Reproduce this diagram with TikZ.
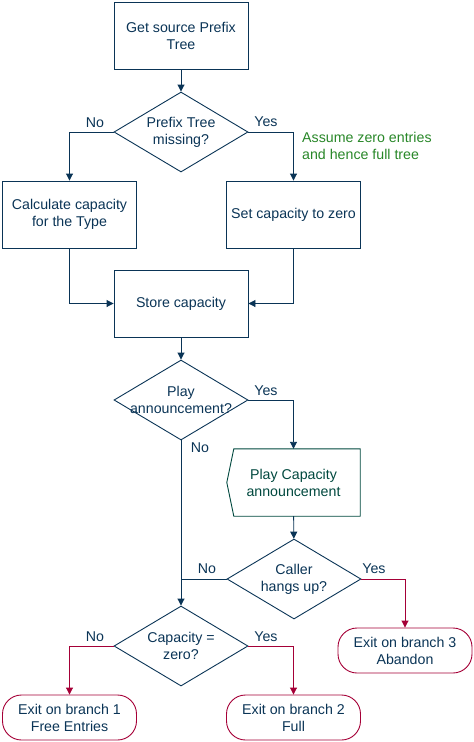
\documentclass[tikz,border=0pt]{standalone}
\usepackage{fontspec}
\setmainfont{Liberation Sans}
\usetikzlibrary{arrows.meta}
\definecolor{navy}{RGB}{10,52,86}
\definecolor{crim}{RGB}{165,0,55}
\definecolor{teal}{RGB}{0,72,62}
\definecolor{grn}{RGB}{40,135,40}
\tikzset{
  base/.style={font=\fontsize{14.2}{17}\selectfont, text=navy},
  proc/.style={base, draw=navy, line width=0.9pt, rectangle, minimum width=134pt, minimum height=67pt, align=center, inner sep=0pt},
  dia/.style={diamond, draw=navy, line width=0.9pt, minimum width=134pt, minimum height=80pt, inner sep=0pt},
  dtext/.style={base, align=center, inner sep=0pt},
  term/.style={base, draw=crim, line width=0.9pt, rectangle, rounded corners=19pt, minimum width=134pt, minimum height=45pt, align=center, inner sep=0pt},
  lab/.style={base, inner sep=0pt},
  conn/.style={draw=navy, line width=0.9pt, -{Triangle[length=7pt,width=7pt]}},
  plain/.style={draw=navy, line width=0.9pt},
  rconn/.style={draw=crim, line width=0.9pt, -{Triangle[length=7pt,width=7pt]}}
}
\usetikzlibrary{shapes.geometric}
\begin{document}
\begin{tikzpicture}[x=1pt,y=-1pt]
\useasboundingbox (0,0) rectangle (474,742);
\node[proc] (top) at (181,35.5) {Get source Prefix\\Tree};
\node[dia] (d1) at (181,132) {};
\node[dtext] (t1) at (181,132) {Prefix Tree\\missing?};
\node[proc] (calc) at (69.5,214.5) {Calculate capacity\\for the Type};
\node[proc] (setz) at (293.5,214.5) {Set capacity to zero};
\node[proc] (store) at (181,303.5) {Store capacity};
\node[dia] (d2) at (181,400) {};
\node[dtext] (t2) at (181,400) {Play\\announcement?};
\node[base, text=teal, minimum width=133pt, minimum height=67pt, align=center, inner sep=0pt] (pa) at (293.5,482.5) {Play Capacity\\announcement};
\draw[teal, line width=0.9pt] ([xshift=7pt]pa.north west) -- (pa.north east) -- (pa.south east) -- ([xshift=7pt]pa.south west) -- (pa.west) -- cycle;
\node[dia] (d3) at (294,579) {};
\node[dtext] (t3) at (294,579) {Caller\\hangs up?};
\node[dia] (d4) at (181,646) {};
\node[dtext] (t4) at (181,646) {Capacity =\\zero?};
\node[term] (ex1) at (69.5,717.5) {Exit on branch 1\\Free Entries};
\node[term] (ex2) at (293.5,717.5) {Exit on branch 2\\Full};
\node[term] (ex3) at (405,650.5) {Exit on branch 3\\Abandon};
\node[base, text=grn, anchor=west, align=left, inner sep=0pt] (note) at (302,146) {Assume zero entries\\and hence full tree};
% connectors
\draw[conn] (top) -- (d1);
\draw[conn] (d1.west) -| (calc.north);
\draw[conn] (d1.east) -| (setz.north);
\draw[conn] (calc.south) |- (store.west);
\draw[conn] (setz.south) |- (store.east);
\draw[conn] (store) -- (d2);
\draw[conn] (d2.east) -| (pa.north);
\draw[conn] (pa) -- (d3);
\draw[conn] (d2.south) -- (d4.north);
\draw[plain] (d3.west) -- (d3.west -| d4.north);
\draw[rconn] (d3.east) -| (ex3.north);
\draw[rconn] (d4.west) -| (ex1.north);
\draw[rconn] (d4.east) -| (ex2.north);
% labels
\node[lab] (l1) at (95,123) {No};
\node[lab] (l2) at (266,122) {Yes};
\node[lab] (l3) at (266,391) {Yes};
\node[lab] (l4) at (200,448) {No};
\node[lab] (l5) at (207,569) {No};
\node[lab] (l6) at (374,569) {Yes};
\node[lab] (l7) at (95,637) {No};
\node[lab] (l8) at (266,637) {Yes};
\end{tikzpicture}
\end{document}
